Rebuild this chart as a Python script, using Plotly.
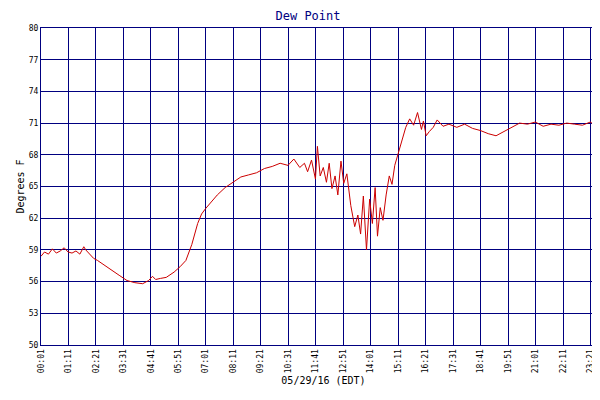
import plotly.graph_objects as go

# minutes after midnight, dew point (F)
minutes = [1, 10, 20, 30, 40, 50, 60, 70, 80, 90, 100, 110, 115, 125, 135, 145,
           160, 180, 200, 220, 240, 260, 275, 285, 293, 305, 320, 340, 355, 370,
           385, 400, 410, 420, 435, 450, 470, 490, 510, 530, 550, 570, 590, 610,
           630, 645, 660, 672, 680, 690, 700, 705, 712, 720, 728, 735, 742, 750,
           757, 765, 772, 780, 790, 800, 808, 815, 822, 830, 838, 845, 852, 858,
           865, 872, 880, 888, 895, 902, 910, 920, 930, 940, 950, 960, 970, 975,
           982, 990, 1000, 1010, 1025, 1040, 1060, 1080, 1100, 1120, 1140, 1160,
           1180, 1200, 1220, 1240, 1260, 1280, 1300, 1320, 1340, 1360, 1380, 1400,
           1420, 1440]
dew = [58.4, 58.8, 58.6, 59.1, 58.7, 58.9, 59.2, 58.8, 58.7, 58.9, 58.6, 59.3,
       59.0, 58.6, 58.2, 58.0, 57.6, 57.1, 56.6, 56.1, 55.9, 55.8, 56.1, 56.5,
       56.2, 56.3, 56.4, 56.9, 57.4, 58.0, 59.5, 61.5, 62.4, 62.9, 63.6, 64.2,
       64.9, 65.4, 65.9, 66.1, 66.3, 66.7, 66.9, 67.2, 67.0, 67.6, 66.8, 67.2,
       66.4, 67.5, 65.7, 68.8, 66.0, 66.8, 65.4, 67.2, 64.8, 66.0, 64.2, 67.4,
       65.3, 66.2, 63.2, 61.2, 62.3, 60.5, 64.1, 59.0, 63.8, 61.5, 64.9, 60.3,
       63.0, 61.8, 64.2, 66.0, 65.2, 67.0, 68.1, 69.4, 70.6, 71.4, 70.8, 72.0,
       70.4, 71.2, 69.8, 70.2, 70.6, 71.3, 70.7, 70.9, 70.6, 70.9, 70.5, 70.3,
       70.0, 69.8, 70.2, 70.6, 71.0, 70.9, 71.1, 70.7, 70.9, 70.8, 71.0, 70.9,
       70.8, 71.1, 70.6, 70.4]

tick_vals = [1 + 70 * i for i in range(21)] + [1440]
tick_text = ["00:01", "01:11", "02:21", "03:31", "04:41", "05:51", "07:01",
             "08:11", "09:21", "10:31", "11:41", "12:51", "14:01", "15:11",
             "16:21", "17:31", "18:41", "19:51", "21:01", "22:11", "23:21", "00:00"]
y_ticks = [50, 53, 56, 59, 62, 65, 68, 71, 74, 77, 80]

font = dict(family="DejaVu Sans Mono", size=8, color="#000000")
navy = "#000080"

fig = go.Figure(go.Scatter(x=minutes, y=dew, mode="lines", name="Dew Point",
                           line=dict(color="#cc0000", width=1)))
fig.update_layout(
    width=600, height=400, plot_bgcolor="white", paper_bgcolor="white",
    margin=dict(l=33, r=2, t=20, b=63, autoexpand=False), font=font,
    title=dict(text="Dew Point", x=0.5, y=0.99, xanchor="center", yanchor="top",
               font=dict(family="DejaVu Sans Mono", size=12, color=navy)),
    showlegend=True,
    legend=dict(orientation="h", x=0.5, xanchor="center", y=-0.17, yanchor="top",
                font=dict(family="DejaVu Sans Mono", size=8)),
)
fig.update_xaxes(range=[1, 1440], tickmode="array", tickvals=tick_vals,
                 ticktext=tick_text, tickangle=-90, showgrid=True, gridcolor=navy,
                 gridwidth=1, linecolor=navy, mirror=True, showline=True,
                 automargin=False, ticks="", zeroline=False,
                 title=dict(text="05/29/16 (EDT)", standoff=4,
                            font=dict(family="DejaVu Sans Mono", size=10)))
fig.update_yaxes(range=[50, 80], tickvals=y_ticks, showgrid=True, gridcolor=navy,
                 linecolor=navy, mirror=True, showline=True, zeroline=False,
                 automargin=False, ticks="",
                 title=dict(text="Degrees F", standoff=2,
                            font=dict(family="DejaVu Sans Mono", size=10)))
fig.write_html("out.html")
